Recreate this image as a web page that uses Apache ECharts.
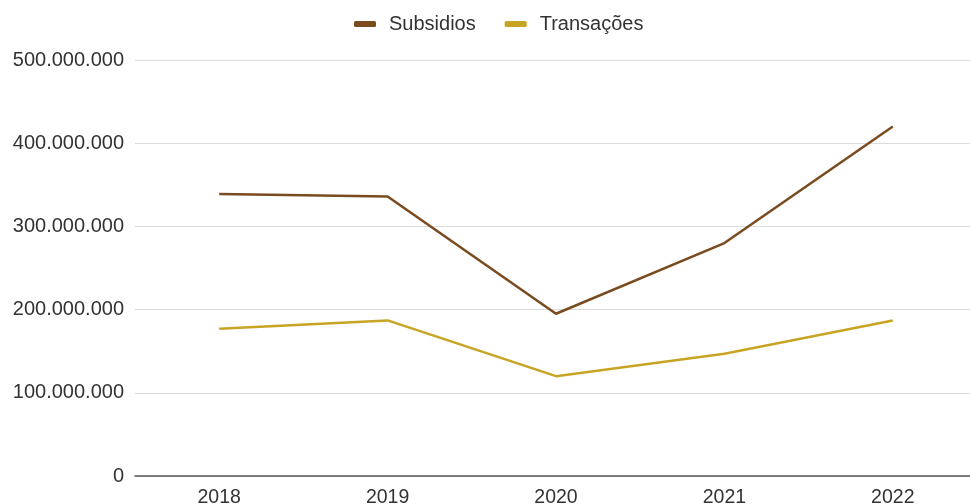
<!DOCTYPE html>
<html>
<head>
<meta charset="utf-8">
<script src="https://cdn.jsdelivr.net/npm/echarts@6/dist/echarts.min.js"></script>
<style>
  html, body { margin: 0; padding: 0; background: #fff; }
  #chart { width: 970px; height: 504px; }
</style>
</head>
<body>
<div id="chart"></div>
<script>
// Years on the horizontal axis
const years = ['2018', '2019', '2020', '2021', '2022'];
// Annual totals per series
const subsidios = [339000000, 336000000, 195000000, 280000000, 420000000];
const transacoes = [177000000, 187000000, 120000000, 147000000, 187000000];

const chart = echarts.init(document.getElementById('chart'));

// Format numbers with dots as thousands separators
const fmt = v => String(v).replace(/\B(?=(\d{3})+(?!\d))/g, '.');

chart.setOption({
  animation: false,
  textStyle: { fontFamily: 'Liberation Sans, Arial, sans-serif' },
  legend: {
    top: 9,
    left: 349,
    itemWidth: 22,
    itemHeight: 6,
    itemGap: 29,
    icon: 'roundRect',
    textStyle: { fontSize: 20, color: '#333', padding: [0, 0, 0, 8] },
    data: ['Subsidios', 'Transações']
  },
  grid: {
    left: 135, right: -7, top: 60, bottom: 28,
    containLabel: false,
    outerBoundsMode: 'none'
  },
  xAxis: {
    type: 'category',
    data: years,
    boundaryGap: true,
    axisLine: { lineStyle: { color: '#555', width: 1.5 } },
    axisTick: { show: false },
    axisLabel: { fontSize: 19.5, color: '#333', margin: 12 }
  },
  yAxis: {
    type: 'value',
    min: 0,
    max: 500000000,
    interval: 100000000,
    axisLine: { show: false },
    axisTick: { show: false },
    splitLine: { lineStyle: { color: '#dcdcdc', width: 1 } },
    axisLabel: { fontSize: 20, color: '#333', margin: 11, formatter: fmt }
  },
  series: [
    {
      name: 'Subsidios',
      type: 'line',
      data: subsidios,
      symbol: 'none',
      color: '#7a4b1f',
      lineStyle: { width: 2.5, color: '#7a4b1f' }
    },
    {
      name: 'Transações',
      type: 'line',
      data: transacoes,
      symbol: 'none',
      color: '#c9a424',
      lineStyle: { width: 2.5, color: '#c9a424' }
    }
  ]
});
</script>
</body>
</html>
